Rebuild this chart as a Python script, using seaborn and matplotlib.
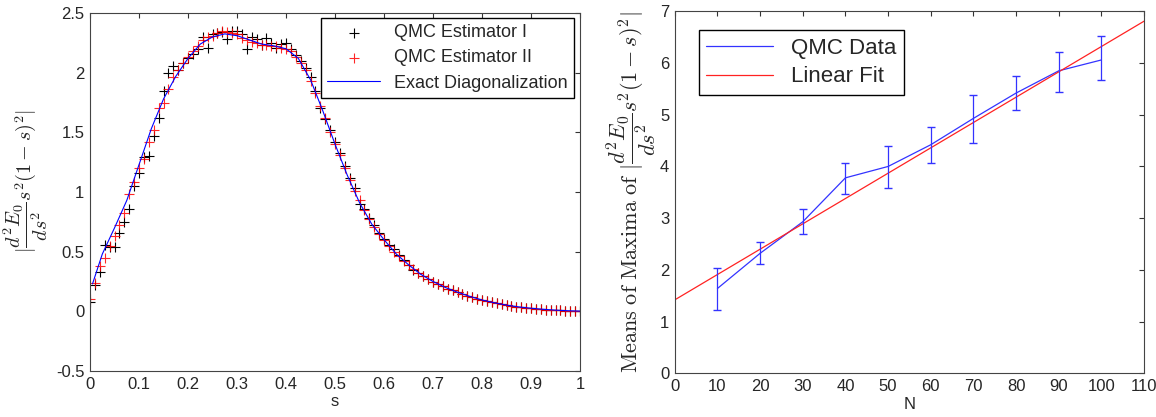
import numpy as np
import pandas as pd
import seaborn as sns
import matplotlib.pyplot as plt
from matplotlib.ticker import FuncFormatter

# ---- left panel: exact diagonalization curve ----
s_exact = [0.005, 0.025, 0.05, 0.075, 0.1, 0.125, 0.15, 0.175, 0.2, 0.225,
           0.25, 0.275, 0.3, 0.325, 0.35, 0.375, 0.4, 0.425, 0.45, 0.475,
           0.5, 0.525, 0.55, 0.575, 0.6, 0.625, 0.65, 0.675, 0.7, 0.725,
           0.75, 0.775, 0.8, 0.825, 0.85, 0.875, 0.9, 0.925, 0.95, 0.975, 1.0]
v_exact = [0.23, 0.48, 0.70, 0.93, 1.23, 1.53, 1.78, 1.97, 2.12, 2.24,
           2.30, 2.325, 2.31, 2.275, 2.24, 2.225, 2.20, 2.12, 1.94, 1.68,
           1.40, 1.14, 0.91, 0.73, 0.60, 0.48, 0.39, 0.31, 0.25, 0.20,
           0.16, 0.125, 0.095, 0.072, 0.052, 0.037, 0.026, 0.017, 0.010, 0.005, 0.002]

# QMC estimators, sampled on s = 0, 0.01, ..., 1
s_qmc = np.linspace(0, 1, 101)
est2 = [0.10, 0.24, 0.38, 0.45, 0.55, 0.63, 0.72, 0.82, 0.98, 1.08,
        1.20, 1.28, 1.42, 1.52, 1.70, 1.75, 1.86, 1.96, 2.02, 2.08,
        2.13, 2.18, 2.22, 2.27, 2.30, 2.31, 2.33, 2.35, 2.34, 2.33,
        2.32, 2.29, 2.27, 2.26, 2.25, 2.23, 2.23, 2.22, 2.22, 2.21,
        2.20, 2.18, 2.13, 2.08, 2.02, 1.93, 1.83, 1.72, 1.62, 1.50,
        1.40, 1.31, 1.20, 1.10, 1.01, 0.93, 0.85, 0.77, 0.71, 0.65,
        0.60, 0.55, 0.50, 0.46, 0.42, 0.39, 0.355, 0.325, 0.30, 0.27,
        0.25, 0.23, 0.21, 0.19, 0.175, 0.16, 0.145, 0.13, 0.12, 0.105,
        0.095, 0.088, 0.078, 0.07, 0.06, 0.052, 0.046, 0.04, 0.035, 0.03,
        0.026, 0.022, 0.018, 0.015, 0.012, 0.01, 0.008, 0.006, 0.004, 0.003,
        0.002]
est1 = [0.08, 0.22, 0.33, 0.56, 0.54, 0.54, 0.66, 0.75, 0.86, 1.05,
        1.16, 1.29, 1.30, 1.47, 1.62, 1.85, 2.00, 2.06, 2.02, 2.08,
        2.12, 2.16, 2.20, 2.30, 2.21, 2.32, 2.33, 2.34, 2.28, 2.35,
        2.35, 2.32, 2.20, 2.30, 2.28, 2.23, 2.29, 2.25, 2.21, 2.24,
        2.25, 2.20, 2.15, 2.10, 2.04, 1.96, 1.85, 1.70, 1.61, 1.52,
        1.42, 1.33, 1.22, 1.12, 1.03, 0.90, 0.86, 0.78, 0.72, 0.66,
        0.61, 0.56, 0.52, 0.47, 0.43, 0.39, 0.35, 0.32, 0.30, 0.27,
        0.25, 0.23, 0.21, 0.19, 0.175, 0.16, 0.145, 0.13, 0.12, 0.105,
        0.095, 0.088, 0.078, 0.07, 0.06, 0.052, 0.046, 0.04, 0.035, 0.03,
        0.026, 0.022, 0.018, 0.015, 0.012, 0.01, 0.008, 0.006, 0.004, 0.003,
        0.002]

# ---- right panel ----
n_vals = [10, 20, 30, 40, 50, 60, 70, 80, 90, 100]
qmc_mean = [1.64, 2.32, 2.93, 3.78, 4.00, 4.42, 4.93, 5.42, 5.85, 6.06]
qmc_low = [1.22, 2.11, 2.69, 3.46, 3.58, 4.06, 4.45, 5.09, 5.44, 5.67]
qmc_high = [2.03, 2.53, 3.18, 4.06, 4.40, 4.77, 5.39, 5.74, 6.22, 6.52]
fit_n = [0, 110]
fit_v = [1.42, 6.81]

sns.set_style("white")
plt.rcParams['font.family'] = ['Liberation Sans', 'DejaVu Sans']
plt.rcParams['mathtext.fontset'] = 'cm'
plt.rcParams['axes.unicode_minus'] = False

fig = plt.figure(figsize=(11.56, 4.17), dpi=100)
ax1 = fig.add_axes([0.0779, 0.1103, 0.4239, 0.8585])
ax2 = fig.add_axes([0.5837, 0.1048, 0.4060, 0.8680])

left = pd.DataFrame({'s': s_qmc, 'I': est1, 'II': est2})
exact = pd.DataFrame({'s': s_exact, 'v': v_exact})

sns.scatterplot(data=left, x='s', y='I', ax=ax1, marker='+', color='black',
                s=55, linewidth=0.8, label='QMC Estimator I')
sns.scatterplot(data=left, x='s', y='II', ax=ax1, marker='+', color='#ff0000',
                s=55, linewidth=0.8, alpha=0.85, label='QMC Estimator II')
sns.lineplot(data=exact, x='s', y='v', ax=ax1, color='#0000ff', linewidth=0.8,
             label='Exact Diagonalization')

ax1.set_xlim(0, 1)
ax1.set_ylim(-0.5, 2.5)
ax1.set_xticks(np.arange(0, 1.01, 0.1))
ax1.set_yticks(np.arange(-0.5, 2.51, 0.5))
ax1.set_xlabel('s', fontsize=12, labelpad=2)
ax1.set_ylabel(r'$|\dfrac{d^2E_0}{ds^2}s^2(1-s)^2|$', fontsize=14.5, labelpad=4)
ax1.yaxis.label.set_y(0.53)
ax1.legend(loc='upper right', bbox_to_anchor=(0.988, 0.986), borderaxespad=0,
           fontsize=13, frameon=True, fancybox=False, edgecolor='black',
           framealpha=1, handlelength=2.9, labelspacing=0.45, borderpad=0.35)

qmc = pd.DataFrame({'N': n_vals, 'mean': qmc_mean})
fit = pd.DataFrame({'N': fit_n, 'v': fit_v})
sns.lineplot(data=qmc, x='N', y='mean', ax=ax2, color='#3333ff', linewidth=0.9,
             label='QMC Data')
sns.lineplot(data=fit, x='N', y='v', ax=ax2, color='#ff2222', linewidth=0.9,
             label='Linear Fit')
yerr = [np.array(qmc_mean) - np.array(qmc_low), np.array(qmc_high) - np.array(qmc_mean)]
ax2.errorbar(n_vals, qmc_mean, yerr=yerr, fmt='none', ecolor='#3333ff',
             elinewidth=0.9, capsize=3)

ax2.set_xlim(0, 110)
ax2.set_ylim(0, 7)
ax2.set_xticks(range(0, 111, 10))
ax2.set_yticks(range(0, 8))
ax2.set_xlabel('N', fontsize=12, labelpad=2)
ax2.set_ylabel(r'$\mathrm{Means\ of\ Maxima\ of\ }|\dfrac{d^2E_0}{ds^2}s^2(1-s)^2|$',
               fontsize=16, labelpad=1)
ax2.legend(loc='upper left', bbox_to_anchor=(0.051, 0.949), borderaxespad=0,
           fontsize=16, frameon=True, fancybox=False, edgecolor='black',
           framealpha=1, handlelength=3.0, labelspacing=0.35, borderpad=0.35)

fmt = FuncFormatter(lambda v, p: '%g' % round(v, 2))
for ax in (ax1, ax2):
    ax.xaxis.set_major_formatter(fmt)
    ax.yaxis.set_major_formatter(fmt)
    ax.tick_params(direction='in', length=3.5, width=0.8, labelsize=12,
                   top=True, right=True, color='#333333', pad=4)
    for sp in ax.spines.values():
        sp.set_color('#444444')
        sp.set_linewidth(0.8)

fig.savefig('out.png', dpi=100)
